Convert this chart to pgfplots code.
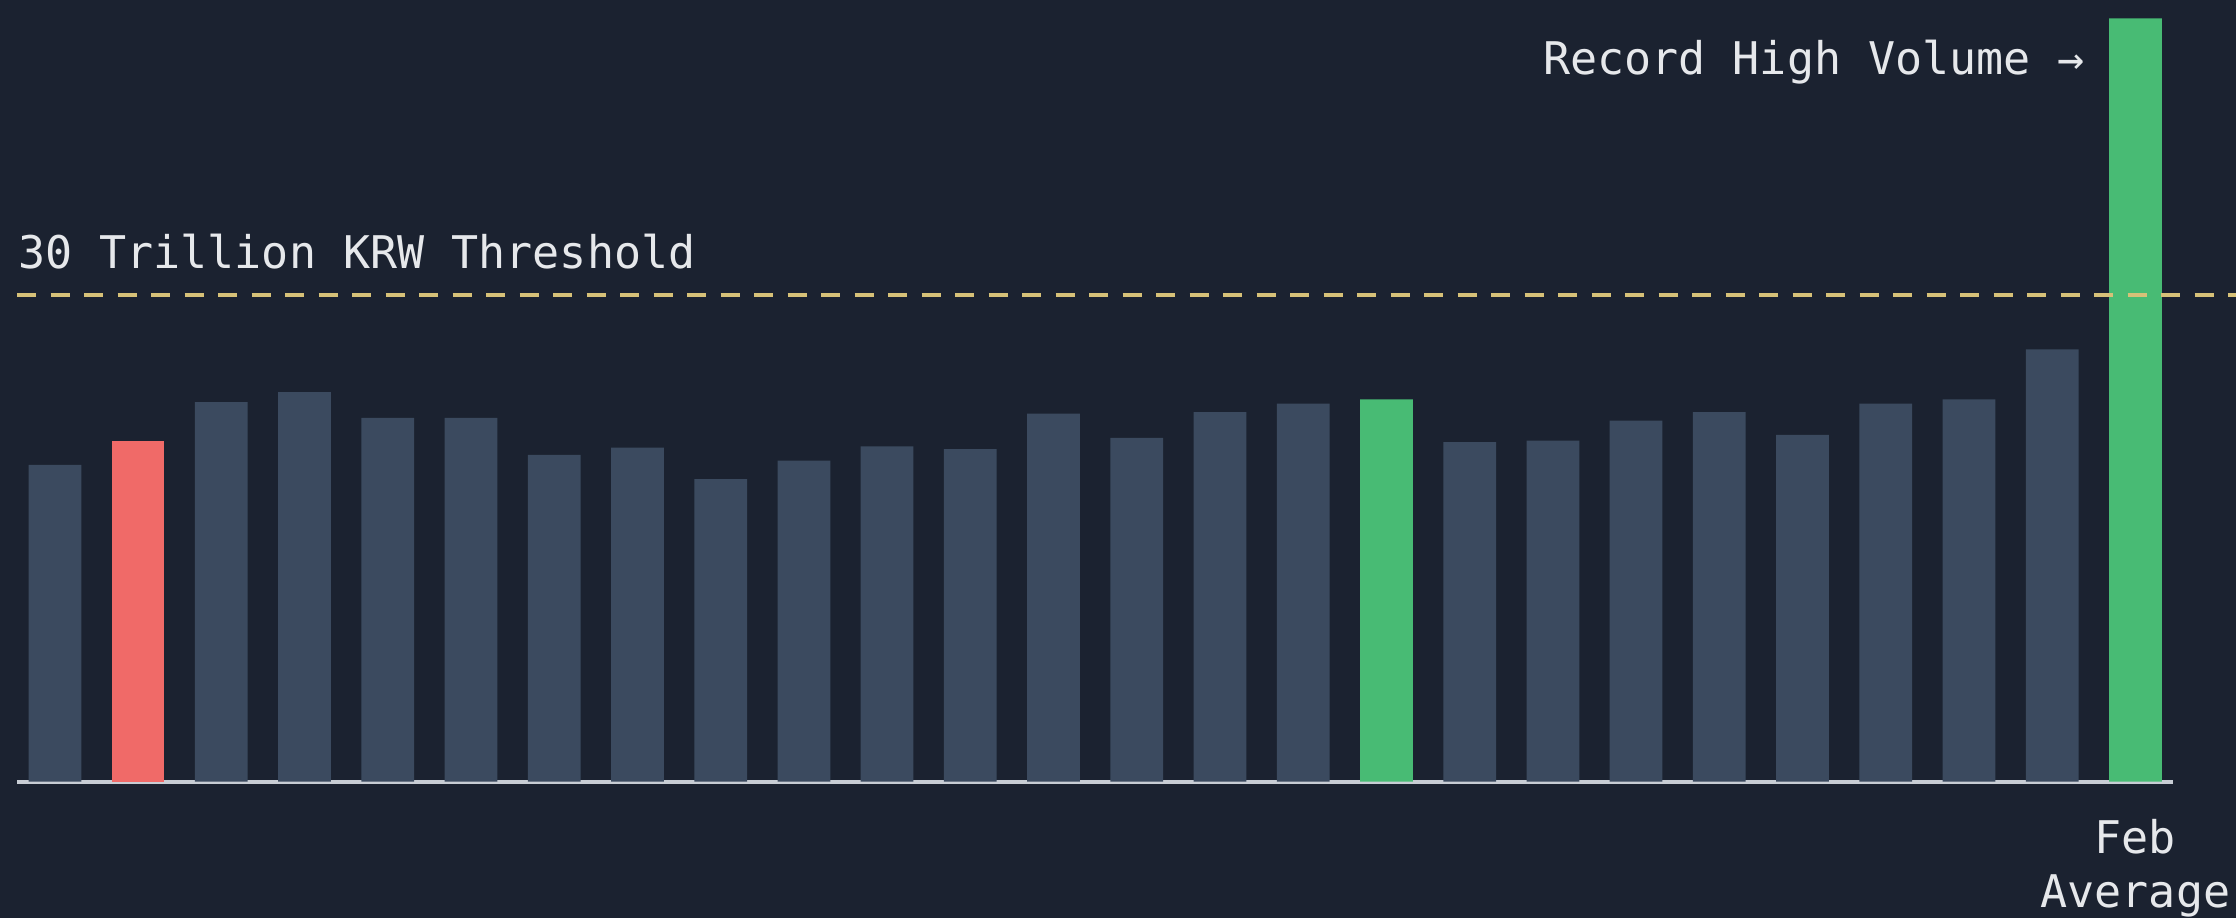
\documentclass[border=0pt]{standalone}
\usepackage{pgfplots}
\pgfplotsset{compat=1.18}
\usepackage{fontspec}
\newfontfamily\chartfont{DejaVu Sans Mono}
\definecolor{bg}{RGB}{27,34,48}
\definecolor{barc}{RGB}{59,74,95}
\definecolor{redc}{RGB}{240,106,104}
\definecolor{greenc}{RGB}{72,187,116}
\definecolor{axc}{RGB}{200,205,212}
\definecolor{txt}{RGB}{230,232,235}
\definecolor{dashc}{RGB}{214,193,120}
\begin{document}
\begin{tikzpicture}
\path[use as bounding box, fill=bg] (-3.42pt,-27.3pt) rectangle (443.76pt,156.3pt);
\begin{axis}[
  at={(0,0)}, anchor=south west,
  scale only axis, width=431.2pt, height=156.3pt,
  xmin=-0.454, xmax=25.454, ymin=0, ymax=48.21,
  clip=false,
  axis x line*=bottom, axis y line=none,
  axis line style={draw=axc, line width=0.8pt},
  xtick={25}, xticklabels={{Feb\\Average}},
  major tick length=0pt,
  xticklabel style={align=center, text=txt, inner sep=0pt, anchor=north, yshift=-7.4pt,
     font=\chartfont\fontsize{9}{10.8}\selectfont},
  ytick=\empty,
]
\addplot[ybar, bar width=10.55pt, bar shift=0pt, fill=barc, draw=none] coordinates {
 (0,19.53) (2,23.40) (3,24.02) (4,22.43) (5,22.43) (6,20.15) (7,20.59) (8,18.65)
 (9,19.79) (10,20.67) (11,20.50) (12,22.70) (13,21.20) (14,22.79) (15,23.31)
 (17,20.94) (18,21.03) (19,22.26) (20,22.79) (21,21.38) (22,23.31) (23,23.58) (24,26.66)
};
\addplot[ybar, bar width=10.55pt, bar shift=0pt, fill=redc, draw=none] coordinates {(1,21.03)};
\addplot[ybar, bar width=10.55pt, bar shift=0pt, fill=greenc, draw=none] coordinates {(16,23.58) (25,47.07)};
\addplot[dashc, line width=0.8pt, dash pattern=on 3.8pt off 2.9pt, mark=none] coordinates {(-0.454,30) (26.22,30)};
\node[anchor=base west, inner sep=0pt, yshift=5.4pt, text=txt, font=\chartfont\fontsize{9}{10.8}\selectfont] at (axis cs:-0.454,30) {30 Trillion KRW Threshold};
\node[anchor=base east, inner sep=0pt, xshift=-4.6pt, text=txt, font=\chartfont\fontsize{9}{10.8}\selectfont] at (axis cs:24.683,43.6) {Record High Volume →};
\end{axis}
\end{tikzpicture}
\end{document}
